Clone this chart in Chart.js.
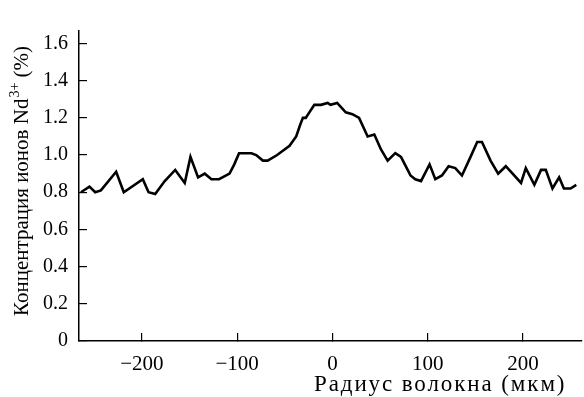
<!DOCTYPE html>
<html>
<head>
<meta charset="utf-8">
<script src="https://cdn.jsdelivr.net/npm/chart.js@4/dist/chart.umd.min.js"></script>
<style>
  html, body { margin: 0; padding: 0; background: #fff; }
  #wrap { width: 584px; height: 397px; position: relative; }
</style>
</head>
<body>
<div id="wrap"><canvas id="c" width="584" height="397"></canvas></div>
<script>
// Radius (µm)
const radius = [-264, -255, -249, -243, -227, -219, -199, -193, -186, -176,
  -165, -155, -149, -141, -134, -127, -119, -108, -103, -98,
  -92, -85, -80, -73, -68, -58, -45, -38, -34, -31,
  -28, -19, -12, -5, -2, 5, 14, 21, 28, 37,
  44, 51, 58, 66, 72, 79, 82, 87, 93, 102,
  108, 115, 122, 129, 136, 145, 152, 157, 166, 174,
  182, 198, 203, 212, 219, 224, 231, 238, 243, 250, 256];
// Nd3+ concentration (%)
const concentration = [0.80, 0.83, 0.80, 0.81, 0.91, 0.80, 0.87, 0.80, 0.79, 0.86,
  0.92, 0.85, 0.99, 0.88, 0.90, 0.87, 0.87, 0.90, 0.95, 1.01,
  1.01, 1.01, 1.00, 0.97, 0.97, 1.00, 1.05, 1.10, 1.16, 1.20,
  1.20, 1.27, 1.27, 1.28, 1.27, 1.28, 1.23, 1.22, 1.20, 1.10,
  1.11, 1.03, 0.97, 1.01, 0.99, 0.92, 0.89, 0.87, 0.86, 0.95,
  0.87, 0.89, 0.94, 0.93, 0.89, 0.99, 1.07, 1.07, 0.97, 0.90,
  0.94, 0.85, 0.93, 0.84, 0.92, 0.92, 0.82, 0.88, 0.82, 0.82, 0.84];
const xTicks = [-200, -100, 0, 100, 200];
const yTicks = [0, 0.2, 0.4, 0.6, 0.8, 1.0, 1.2, 1.4, 1.6];
const xTitle = 'Радиус волокна (мкм)';
const yTitleMain = 'Концентрация ионов Nd';
const yTitleSup = '3+';
const yTitleEnd = ' (%)';

const FONT = '"Liberation Serif", "Times New Roman", serif';

const titlePlugin = {
  id: 'axisTitles',
  afterDraw(chart) {
    const ctx = chart.ctx;
    ctx.save();
    ctx.fillStyle = '#000';
    // x title
    ctx.font = '23px ' + FONT;
    ctx.letterSpacing = '1.9px';
    ctx.textAlign = 'left';
    ctx.textBaseline = 'alphabetic';
    ctx.fillText(xTitle, 314, 391);
    ctx.letterSpacing = '0px';
    // y title, rotated
    ctx.translate(28, 316);
    ctx.rotate(-Math.PI / 2);
    ctx.textAlign = 'left';
    ctx.font = '21px ' + FONT;
    let x = 0;
    ctx.fillText(yTitleMain, x, 0);
    x += ctx.measureText(yTitleMain).width;
    ctx.font = '14px ' + FONT;
    ctx.fillText(yTitleSup, x + 1, -9);
    x += ctx.measureText(yTitleSup).width + 1;
    ctx.font = '21px ' + FONT;
    ctx.fillText(yTitleEnd, x, 0);
    ctx.restore();
  }
};

new Chart(document.getElementById('c'), {
  type: 'scatter',
  data: {
    datasets: [{
      data: radius.map((r, i) => ({ x: r, y: concentration[i] })),
      showLine: true,
      borderColor: '#000',
      borderWidth: 2.6,
      pointRadius: 0,
      tension: 0,
      fill: false
    }]
  },
  options: {
    responsive: false,
    animation: false,
    devicePixelRatio: 1,
    layout: { padding: { top: 20, right: 2, left: 0, bottom: 0 } },
    plugins: { legend: { display: false }, tooltip: { enabled: false } },
    scales: {
      x: {
        type: 'linear',
        min: -266,
        max: 262,
        afterFit(s) { s.height = 56; },
        afterBuildTicks(s) { s.ticks = xTicks.map(v => ({ value: v })); },
        border: { display: true, color: '#000', width: 1.5 },
        grid: { display: true, drawOnChartArea: false, drawTicks: true, tickLength: -8, color: '#000', lineWidth: 1.2 },
        ticks: {
          color: '#000',
          font: { family: FONT, size: 21 },
          padding: 19,
          maxRotation: 0,
          autoSkip: false,
          callback: v => v < 0 ? '\u2212' + Math.abs(v) : String(v)
        },
        title: { display: false }
      },
      y: {
        type: 'linear',
        min: 0,
        max: 1.667,
        afterFit(s) { s.width = 79; },
        afterBuildTicks(s) { s.ticks = yTicks.map(v => ({ value: v })); },
        border: { display: true, color: '#000', width: 1.5 },
        grid: { display: true, drawOnChartArea: false, drawTicks: true, tickLength: -8, color: '#000', lineWidth: 1.2 },
        ticks: {
          color: '#000',
          font: { family: FONT, size: 20 },
          padding: 19,
          autoSkip: false,
          callback: v => v === 0 ? '0' : Number(v).toFixed(1)
        },
        title: { display: false }
      }
    }
  },
  plugins: [titlePlugin]
});
</script>
</body>
</html>
